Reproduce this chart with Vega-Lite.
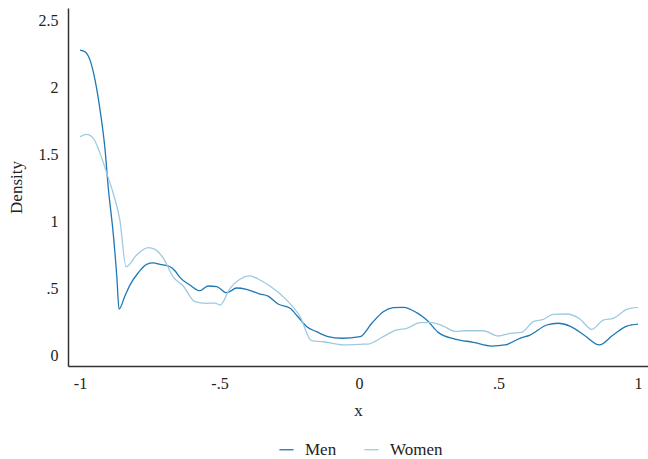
{
  "$schema": "https://vega.github.io/schema/vega-lite/v6.json",
  "width": 580,
  "height": 358,
  "autosize": {"type": "none"},
  "padding": {"left": 68, "top": 8, "right": 0, "bottom": 93},
  "background": "white",
  "config": {
    "view": {"stroke": null},
    "font": "Liberation Serif",
    "axis": {"labelFont": "Liberation Serif", "titleFont": "Liberation Serif", "labelFontSize": 16, "titleFontSize": 17, "titleFontWeight": "normal", "labelColor": "#222", "titleColor": "#222", "grid": false, "ticks": false, "domainColor": "#333", "domainWidth": 1.5},
    "legend": {"labelFont": "Liberation Serif", "labelFontSize": 17, "labelColor": "#222"}
  },
  "data": {"values": [
    {"x": -1.000, "y": 2.276, "g": "Men"},
    {"x": -0.982, "y": 2.263, "g": "Men"},
    {"x": -0.964, "y": 2.201, "g": "Men"},
    {"x": -0.946, "y": 2.052, "g": "Men"},
    {"x": -0.928, "y": 1.828, "g": "Men"},
    {"x": -0.910, "y": 1.530, "g": "Men"},
    {"x": -0.899, "y": 1.256, "g": "Men"},
    {"x": -0.881, "y": 0.910, "g": "Men"},
    {"x": -0.868, "y": 0.584, "g": "Men"},
    {"x": -0.860, "y": 0.343, "g": "Men"},
    {"x": -0.839, "y": 0.440, "g": "Men"},
    {"x": -0.821, "y": 0.522, "g": "Men"},
    {"x": -0.792, "y": 0.612, "g": "Men"},
    {"x": -0.761, "y": 0.677, "g": "Men"},
    {"x": -0.738, "y": 0.687, "g": "Men"},
    {"x": -0.713, "y": 0.677, "g": "Men"},
    {"x": -0.677, "y": 0.659, "g": "Men"},
    {"x": -0.659, "y": 0.627, "g": "Men"},
    {"x": -0.642, "y": 0.580, "g": "Men"},
    {"x": -0.606, "y": 0.522, "g": "Men"},
    {"x": -0.570, "y": 0.480, "g": "Men"},
    {"x": -0.541, "y": 0.515, "g": "Men"},
    {"x": -0.510, "y": 0.510, "g": "Men"},
    {"x": -0.474, "y": 0.465, "g": "Men"},
    {"x": -0.438, "y": 0.500, "g": "Men"},
    {"x": -0.403, "y": 0.490, "g": "Men"},
    {"x": -0.355, "y": 0.455, "g": "Men"},
    {"x": -0.326, "y": 0.440, "g": "Men"},
    {"x": -0.290, "y": 0.381, "g": "Men"},
    {"x": -0.247, "y": 0.349, "g": "Men"},
    {"x": -0.219, "y": 0.286, "g": "Men"},
    {"x": -0.187, "y": 0.211, "g": "Men"},
    {"x": -0.152, "y": 0.174, "g": "Men"},
    {"x": -0.111, "y": 0.137, "g": "Men"},
    {"x": -0.062, "y": 0.125, "g": "Men"},
    {"x": 0.004, "y": 0.137, "g": "Men"},
    {"x": 0.046, "y": 0.237, "g": "Men"},
    {"x": 0.087, "y": 0.323, "g": "Men"},
    {"x": 0.123, "y": 0.353, "g": "Men"},
    {"x": 0.159, "y": 0.356, "g": "Men"},
    {"x": 0.207, "y": 0.316, "g": "Men"},
    {"x": 0.243, "y": 0.261, "g": "Men"},
    {"x": 0.284, "y": 0.169, "g": "Men"},
    {"x": 0.344, "y": 0.119, "g": "Men"},
    {"x": 0.410, "y": 0.095, "g": "Men"},
    {"x": 0.476, "y": 0.067, "g": "Men"},
    {"x": 0.523, "y": 0.075, "g": "Men"},
    {"x": 0.577, "y": 0.125, "g": "Men"},
    {"x": 0.613, "y": 0.149, "g": "Men"},
    {"x": 0.673, "y": 0.224, "g": "Men"},
    {"x": 0.714, "y": 0.237, "g": "Men"},
    {"x": 0.756, "y": 0.216, "g": "Men"},
    {"x": 0.810, "y": 0.144, "g": "Men"},
    {"x": 0.861, "y": 0.075, "g": "Men"},
    {"x": 0.911, "y": 0.149, "g": "Men"},
    {"x": 0.960, "y": 0.216, "g": "Men"},
    {"x": 1.000, "y": 0.231, "g": "Men"},
    {"x": -1.000, "y": 1.629, "g": "Women"},
    {"x": -0.976, "y": 1.647, "g": "Women"},
    {"x": -0.952, "y": 1.617, "g": "Women"},
    {"x": -0.928, "y": 1.505, "g": "Women"},
    {"x": -0.904, "y": 1.356, "g": "Women"},
    {"x": -0.881, "y": 1.207, "g": "Women"},
    {"x": -0.857, "y": 1.007, "g": "Women"},
    {"x": -0.835, "y": 0.659, "g": "Women"},
    {"x": -0.797, "y": 0.746, "g": "Women"},
    {"x": -0.755, "y": 0.801, "g": "Women"},
    {"x": -0.731, "y": 0.789, "g": "Women"},
    {"x": -0.701, "y": 0.722, "g": "Women"},
    {"x": -0.666, "y": 0.584, "g": "Women"},
    {"x": -0.630, "y": 0.515, "g": "Women"},
    {"x": -0.588, "y": 0.398, "g": "Women"},
    {"x": -0.546, "y": 0.386, "g": "Women"},
    {"x": -0.516, "y": 0.388, "g": "Women"},
    {"x": -0.498, "y": 0.373, "g": "Women"},
    {"x": -0.462, "y": 0.498, "g": "Women"},
    {"x": -0.427, "y": 0.565, "g": "Women"},
    {"x": -0.391, "y": 0.590, "g": "Women"},
    {"x": -0.355, "y": 0.560, "g": "Women"},
    {"x": -0.319, "y": 0.515, "g": "Women"},
    {"x": -0.259, "y": 0.410, "g": "Women"},
    {"x": -0.211, "y": 0.286, "g": "Women"},
    {"x": -0.170, "y": 0.107, "g": "Women"},
    {"x": -0.128, "y": 0.099, "g": "Women"},
    {"x": -0.056, "y": 0.075, "g": "Women"},
    {"x": 0.004, "y": 0.080, "g": "Women"},
    {"x": 0.033, "y": 0.082, "g": "Women"},
    {"x": 0.087, "y": 0.137, "g": "Women"},
    {"x": 0.135, "y": 0.187, "g": "Women"},
    {"x": 0.171, "y": 0.199, "g": "Women"},
    {"x": 0.219, "y": 0.241, "g": "Women"},
    {"x": 0.254, "y": 0.244, "g": "Women"},
    {"x": 0.302, "y": 0.216, "g": "Women"},
    {"x": 0.344, "y": 0.177, "g": "Women"},
    {"x": 0.380, "y": 0.181, "g": "Women"},
    {"x": 0.446, "y": 0.181, "g": "Women"},
    {"x": 0.499, "y": 0.142, "g": "Women"},
    {"x": 0.541, "y": 0.162, "g": "Women"},
    {"x": 0.583, "y": 0.169, "g": "Women"},
    {"x": 0.625, "y": 0.249, "g": "Women"},
    {"x": 0.661, "y": 0.266, "g": "Women"},
    {"x": 0.696, "y": 0.304, "g": "Women"},
    {"x": 0.744, "y": 0.306, "g": "Women"},
    {"x": 0.792, "y": 0.269, "g": "Women"},
    {"x": 0.834, "y": 0.192, "g": "Women"},
    {"x": 0.876, "y": 0.261, "g": "Women"},
    {"x": 0.912, "y": 0.274, "g": "Women"},
    {"x": 0.960, "y": 0.341, "g": "Women"},
    {"x": 1.000, "y": 0.356, "g": "Women"}
  ]},
  "mark": {"type": "line", "strokeWidth": 1.3, "interpolate": "monotone"},
  "encoding": {
    "x": {"field": "x", "type": "quantitative", "title": "x",
      "scale": {"domain": [-1.043, 1.036], "nice": false, "zero": false},
      "axis": {"values": [-1, -0.5, 0, 0.5, 1], "labelPadding": 9, "titlePadding": 11,
        "labelExpr": "replace(toString(datum.value), '0.', '.')"}},
    "y": {"field": "y", "type": "quantitative", "title": "Density",
      "scale": {"domain": [-0.082, 2.59], "nice": false, "zero": false},
      "axis": {"values": [0, 0.5, 1, 1.5, 2, 2.5], "labelPadding": 10, "titlePadding": 13,
        "labelExpr": "replace(toString(datum.value), '0.', '.')"}},
    "color": {"field": "g", "type": "nominal", "title": null,
      "scale": {"domain": ["Men", "Women"], "range": ["#1f78b4", "#9ecae1"]},
      "legend": {"orient": "none", "legendX": 210, "legendY": 433, "direction": "horizontal", "symbolType": "stroke", "symbolSize": 200, "symbolStrokeWidth": 1.3, "columnPadding": 24, "labelOffset": 10}}
  }
}
